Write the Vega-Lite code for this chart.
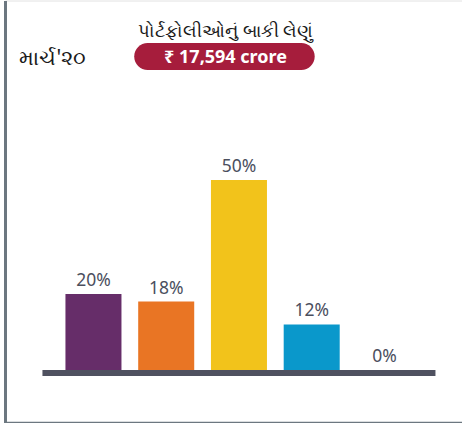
{
  "$schema": "https://vega.github.io/schema/vega-lite/v6.json",
  "width": 460,
  "height": 422.3,
  "autosize": "none",
  "padding": {"left": 5, "top": 0.5, "right": 0, "bottom": 0},
  "background": "white",
  "config": {
    "view": {"stroke": "#e2e2e2", "strokeWidth": 1},
    "axis": {"labels": false, "ticks": false, "grid": false, "domainColor": "#6c7780", "domainWidth": 3, "domainCap": "butt"}
  },
  "data": {
    "values": [
      {"segment": "Segment 1", "share": 0.20},
      {"segment": "Segment 2", "share": 0.18},
      {"segment": "Segment 3", "share": 0.50},
      {"segment": "Segment 4", "share": 0.12},
      {"segment": "Segment 5", "share": 0.00}
    ]
  },
  "layer": [
    {
      "mark": {"type": "bar"},
      "encoding": {
        "x": {"field": "segment", "type": "nominal", "sort": null, "title": null,
              "scale": {"paddingInner": 0.23, "paddingOuter": 0.7766, "align": 0.535, "round": false}},
        "y": {"field": "share", "type": "quantitative", "title": null,
              "scale": {"domain": [-0.138947, 0.972368], "nice": false, "zero": false}},
        "color": {"field": "segment", "type": "nominal", "legend": null,
                  "scale": {"range": ["#662d69", "#e97524", "#f2c31b", "#0a98cb", "#9aa0a6"]}}
      }
    },
    {
      "mark": {"type": "text", "font": "Noto Sans", "fontSize": 17.5, "color": "#4b4f5e", "baseline": "alphabetic", "dy": -8},
      "encoding": {
        "x": {"field": "segment", "type": "nominal", "sort": null, "title": null},
        "y": {"field": "share", "type": "quantitative", "title": null},
        "text": {"field": "share", "type": "quantitative", "format": ".0%"}
      }
    },
    {
      "data": {"values": [{}]},
      "mark": {"type": "rule", "color": "#4f5160", "strokeWidth": 6, "strokeCap": "butt", "yOffset": 3, "xOffset": -23, "x2Offset": 23},
      "encoding": {
        "x": {"datum": "Segment 1", "type": "nominal", "bandPosition": 0, "title": null},
        "x2": {"datum": "Segment 5", "bandPosition": 1},
        "y": {"datum": 0, "type": "quantitative", "title": null}
      }
    },
    {
      "data": {"values": [{}]},
      "mark": {"type": "rect", "color": "#a61d3c", "cornerRadius": 13.5, "xOffset": -4, "x2Offset": 3},
      "encoding": {
        "x": {"datum": "Segment 2", "type": "nominal", "bandPosition": 0, "title": null},
        "x2": {"datum": "Segment 4", "bandPosition": 0.5},
        "y": {"datum": 0.8605, "type": "quantitative", "title": null},
        "y2": {"datum": 0.7895}
      }
    },
    {
      "data": {"values": [{"text": "₹ 17,594 crore"}]},
      "mark": {"type": "text", "font": "Noto Sans", "fontSize": 18, "fontWeight": "bold", "color": "white", "baseline": "alphabetic", "align": "center"},
      "encoding": {
        "x": {"datum": "Segment 3", "type": "nominal", "bandPosition": 0.26, "title": null},
        "y": {"datum": 0.8079, "type": "quantitative", "title": null},
        "text": {"field": "text"}
      }
    },
    {
      "data": {"values": [{"text": "પોર્ટફોલીઓનું બાકી લેણું"}]},
      "mark": {"type": "text", "font": "Noto Sans", "fontSize": 18, "color": "#1a1a1a", "baseline": "alphabetic", "align": "center"},
      "encoding": {
        "x": {"datum": "Segment 3", "type": "nominal", "bandPosition": 0.26, "title": null},
        "y": {"datum": 0.8763, "type": "quantitative", "title": null},
        "text": {"field": "text"}
      }
    },
    {
      "data": {"values": [{"text": "માર્ચ'૨૦"}]},
      "mark": {"type": "text", "font": "Noto Sans", "fontSize": 21, "color": "#1a1a1a", "baseline": "alphabetic", "align": "left", "dx": -46},
      "encoding": {
        "x": {"datum": "Segment 1", "type": "nominal", "bandPosition": 0, "title": null},
        "y": {"datum": 0.8026, "type": "quantitative", "title": null},
        "text": {"field": "text"}
      }
    }
  ]
}
